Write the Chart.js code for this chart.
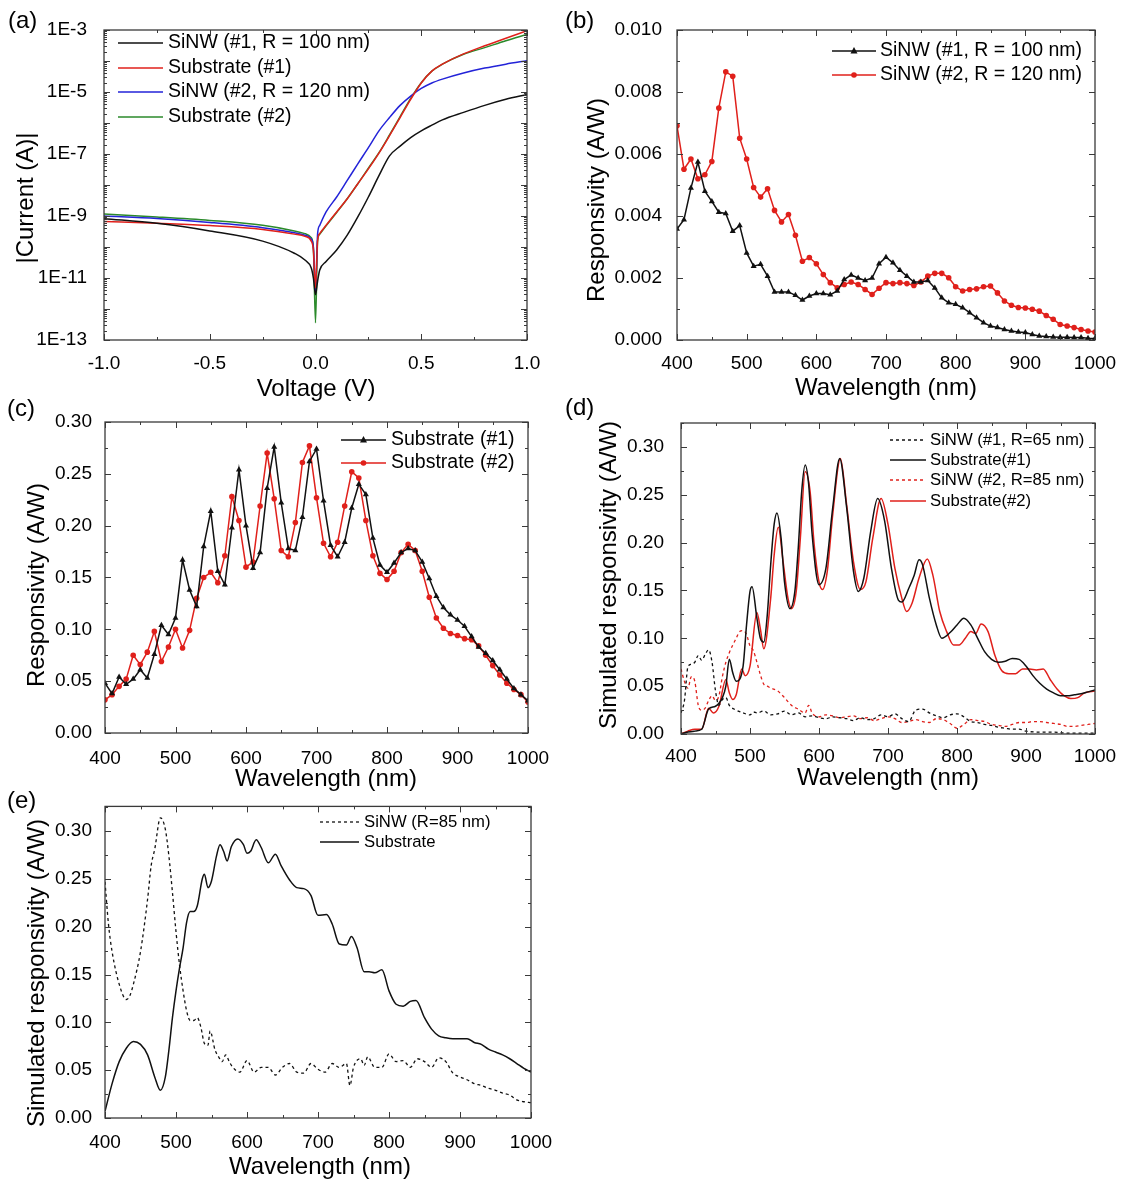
<!DOCTYPE html>
<html>
<head>
<meta charset="utf-8">
<script src="https://cdn.jsdelivr.net/npm/chart.js@4.4.0/dist/chart.umd.min.js"></script>
<style>
  body { margin: 0; background: #fff; }
  #fig { position: relative; width: 1127px; height: 1183px; background: #fff; font-family: 'Liberation Sans', Arial, sans-serif; }
  #fig canvas { position: absolute; }
  .lab { position: absolute; font-size: 24px; line-height: 1; color: #000; }
</style>
</head>
<body>
<div id="fig">
  <canvas id="ca" width="560" height="410" style="left:0;top:0"></canvas>
  <canvas id="cb" width="567" height="410" style="left:560px;top:0"></canvas>
  <canvas id="cc" width="560" height="400" style="left:0;top:400px"></canvas>
  <canvas id="cd" width="567" height="400" style="left:560px;top:400px"></canvas>
  <canvas id="ce" width="560" height="393" style="left:0;top:790px"></canvas>
  <div class="lab" style="left:8px;top:8px">(a)</div>
  <div class="lab" style="left:565px;top:8px">(b)</div>
  <div class="lab" style="left:7px;top:396px">(c)</div>
  <div class="lab" style="left:565px;top:395px">(d)</div>
  <div class="lab" style="left:7px;top:788px">(e)</div>
</div>
<script>
// (a) I-V curves, |current| in A
const aVolt = [-1.0, -0.75, -0.5, -0.25, -0.1, -0.05, -0.02, -0.01, 0, 0.01, 0.02, 0.05, 0.1, 0.15, 0.2, 0.25, 0.3, 0.35, 0.4, 0.45, 0.5, 0.55, 0.6, 0.7, 0.8, 0.9, 1.0];
const aSiNW1 = [8.2e-10, 5.8e-10, 3.3e-10, 1.55e-10, 6.3e-11, 3.8e-11, 2.1e-11, 1e-11, 2.9e-12, 8e-12, 1.8e-11, 3.4e-11, 8e-11, 2.4e-10, 9.3e-10, 4.1e-9, 2e-8, 8.7e-8, 1.8e-7, 3.4e-7, 5.6e-7, 8.5e-7, 1.26e-6, 2.2e-6, 3.7e-6, 5.8e-6, 8.3e-6];
const aSub1 = [6.7e-10, 5.8e-10, 4.9e-10, 3.7e-10, 2.6e-10, 2.2e-10, 1.55e-10, 8e-11, 4.8e-12, 1.65e-10, 2.7e-10, 5e-10, 1.35e-9, 3.6e-9, 1.1e-8, 3.3e-8, 1.07e-7, 3.9e-7, 1.5e-6, 5.8e-6, 1.95e-5, 4.7e-5, 7.9e-5, 1.7e-4, 3.1e-4, 5.4e-4, 9.5e-4];
const aSiNW2 = [1.0e-9, 8.3e-10, 6.2e-10, 4.2e-10, 2.9e-10, 2.4e-10, 1.8e-10, 1e-10, 3.7e-12, 2.7e-10, 5e-10, 1.35e-9, 4.1e-9, 1.4e-8, 4.8e-8, 1.6e-7, 5.6e-7, 1.5e-6, 3.7e-6, 7.4e-6, 1.3e-5, 1.95e-5, 2.6e-5, 4.1e-5, 5.9e-5, 7.9e-5, 1.02e-4];
const aSub2 = [1.15e-9, 9.3e-10, 7.2e-10, 5e-10, 3.3e-10, 2.7e-10, 2e-10, 9e-11, 3.6e-13, 1.55e-10, 2.6e-10, 4.8e-10, 1.3e-9, 3.6e-9, 1.1e-8, 3.5e-8, 1.1e-7, 4.1e-7, 1.6e-6, 6.2e-6, 2e-5, 4.7e-5, 7.9e-5, 1.65e-4, 2.7e-4, 4.5e-4, 7.2e-4];
const aYTicks = [1e-13, 1e-11, 1e-9, 1e-7, 1e-5, 1e-3];
const aYLabels = ['1E-13', '1E-11', '1E-9', '1E-7', '1E-5', '1E-3'];

// (b), (c) measured spectra every 10 nm
const wl10 = [400, 410, 420, 430, 440, 450, 460, 470, 480, 490, 500, 510, 520, 530, 540, 550, 560, 570, 580, 590, 600, 610, 620, 630, 640, 650, 660, 670, 680, 690, 700, 710, 720, 730, 740, 750, 760, 770, 780, 790, 800, 810, 820, 830, 840, 850, 860, 870, 880, 890, 900, 910, 920, 930, 940, 950, 960, 970, 980, 990, 1000];
const bSiNW1 = [0.00358, 0.00388, 0.0049, 0.00574, 0.0048, 0.00447, 0.00412, 0.00408, 0.00351, 0.00369, 0.00281, 0.00238, 0.00244, 0.00206, 0.00155, 0.00155, 0.00155, 0.00144, 0.00129, 0.00142, 0.0015, 0.0015, 0.00146, 0.00158, 0.00195, 0.0021, 0.002, 0.00192, 0.002, 0.00246, 0.00267, 0.00249, 0.00225, 0.00206, 0.00187, 0.00187, 0.00192, 0.00168, 0.00136, 0.0012, 0.00115, 0.00104, 0.00088, 0.00072, 0.00056, 0.00045, 0.0004, 0.00034, 0.00029, 0.00026, 0.00024, 0.00018, 0.00013, 0.00011, 0.0001, 0.00009, 0.00009, 0.00008, 0.00008, 0.00006, 0.00005];
const bSiNW2 = [0.00691, 0.00551, 0.00584, 0.0052, 0.00533, 0.00576, 0.00748, 0.00865, 0.00851, 0.00651, 0.00584, 0.00492, 0.00461, 0.00488, 0.00418, 0.00381, 0.00405, 0.00338, 0.00254, 0.00266, 0.00246, 0.00211, 0.00185, 0.00168, 0.00179, 0.00187, 0.00179, 0.00163, 0.00147, 0.00167, 0.00185, 0.00182, 0.00185, 0.00182, 0.00176, 0.00187, 0.00206, 0.00215, 0.00215, 0.00201, 0.00172, 0.00158, 0.00163, 0.00165, 0.00172, 0.00174, 0.00152, 0.00126, 0.00112, 0.00105, 0.00103, 0.00099, 0.00093, 0.00079, 0.00067, 0.0005, 0.00045, 0.0004, 0.00034, 0.00029, 0.00026];
const cSub1 = [0.048, 0.038, 0.054, 0.047, 0.052, 0.061, 0.053, 0.076, 0.104, 0.095, 0.111, 0.167, 0.138, 0.122, 0.18, 0.214, 0.156, 0.143, 0.198, 0.254, 0.2, 0.159, 0.174, 0.236, 0.276, 0.222, 0.178, 0.176, 0.208, 0.262, 0.274, 0.224, 0.181, 0.17, 0.184, 0.217, 0.24, 0.23, 0.188, 0.162, 0.155, 0.164, 0.174, 0.178, 0.176, 0.165, 0.149, 0.132, 0.121, 0.114, 0.109, 0.103, 0.093, 0.083, 0.077, 0.07, 0.061, 0.052, 0.043, 0.037, 0.031];
const cSub2 = [0.032, 0.037, 0.045, 0.052, 0.075, 0.066, 0.078, 0.098, 0.069, 0.083, 0.1, 0.082, 0.099, 0.13, 0.15, 0.155, 0.145, 0.171, 0.228, 0.205, 0.16, 0.165, 0.219, 0.27, 0.226, 0.176, 0.17, 0.203, 0.261, 0.277, 0.227, 0.183, 0.17, 0.184, 0.219, 0.252, 0.246, 0.205, 0.171, 0.154, 0.148, 0.156, 0.174, 0.182, 0.176, 0.156, 0.131, 0.111, 0.101, 0.096, 0.094, 0.091, 0.09, 0.084, 0.075, 0.065, 0.056, 0.048, 0.042, 0.037, 0.03];

// (d) simulated spectra
const dSiNW1Wl = [400, 405, 410, 415, 420, 425, 430, 435, 440, 445, 450, 455, 460, 465, 470, 480, 490, 500, 505, 510, 520, 530, 540, 550, 560, 570, 580, 590, 600, 610, 620, 630, 640, 650, 660, 670, 680, 690, 700, 710, 720, 730, 740, 750, 760, 770, 780, 790, 800, 810, 820, 830, 840, 850, 860, 870, 880, 890, 900, 920, 940, 960, 980, 1000];
const dSiNW1 = [0.022, 0.035, 0.07, 0.073, 0.075, 0.082, 0.077, 0.083, 0.088, 0.075, 0.045, 0.03, 0.036, 0.038, 0.03, 0.025, 0.022, 0.02, 0.023, 0.022, 0.024, 0.02, 0.021, 0.024, 0.02, 0.022, 0.018, 0.019, 0.017, 0.016, 0.018, 0.017, 0.016, 0.014, 0.017, 0.015, 0.016, 0.02, 0.018, 0.021, 0.016, 0.013, 0.025, 0.026, 0.022, 0.019, 0.017, 0.02, 0.021, 0.018, 0.013, 0.012, 0.01, 0.009, 0.007, 0.006, 0.005, 0.005, 0.003, 0.002, 0.002, 0.001, 0.001, 0.001];
const dSub1Wl = [400, 410, 420, 430, 440, 450, 460, 465, 470, 475, 480, 490, 495, 500, 503, 510, 515, 520, 525, 530, 535, 539, 545, 550, 558, 565, 570, 575, 580, 585, 590, 600, 610, 620, 630, 640, 650, 657, 665, 675, 685, 695, 705, 715, 720, 730, 738, 745, 750, 760, 770, 778, 790, 800, 810, 820, 830, 840, 850, 860, 870, 880, 890, 900, 910, 920, 930, 940, 950, 960, 970, 980, 990, 1000];
const dSub1 = [0, 0.002, 0.003, 0.005, 0.026, 0.029, 0.038, 0.05, 0.078, 0.064, 0.055, 0.071, 0.114, 0.149, 0.154, 0.121, 0.1, 0.096, 0.124, 0.177, 0.219, 0.231, 0.205, 0.159, 0.131, 0.149, 0.195, 0.254, 0.281, 0.261, 0.209, 0.156, 0.173, 0.237, 0.288, 0.237, 0.17, 0.149, 0.163, 0.212, 0.246, 0.223, 0.173, 0.14, 0.138, 0.152, 0.166, 0.182, 0.177, 0.142, 0.114, 0.1, 0.106, 0.114, 0.121, 0.114, 0.1, 0.086, 0.078, 0.075, 0.076, 0.079, 0.078, 0.071, 0.061, 0.053, 0.047, 0.043, 0.04, 0.04, 0.041, 0.042, 0.044, 0.046];
const dSiNW2Wl = [400, 405, 410, 415, 420, 425, 430, 435, 440, 445, 450, 455, 460, 465, 470, 475, 480, 485, 490, 495, 500, 505, 510, 515, 520, 525, 530, 540, 550, 560, 570, 580, 585, 590, 600, 610, 620, 630, 640, 650, 660, 670, 680, 690, 700, 710, 720, 730, 740, 750, 760, 770, 780, 790, 800, 810, 820, 830, 840, 850, 860, 870, 880, 890, 900, 910, 920, 930, 940, 950, 960, 970, 980, 990, 1000];
const dSiNW2 = [0.068, 0.055, 0.048, 0.06, 0.055, 0.03, 0.025, 0.027, 0.035, 0.04, 0.035, 0.04, 0.06, 0.075, 0.085, 0.093, 0.1, 0.107, 0.108, 0.104, 0.092, 0.087, 0.075, 0.062, 0.052, 0.05, 0.048, 0.045, 0.038, 0.03, 0.026, 0.022, 0.03, 0.022, 0.018, 0.02, 0.019, 0.017, 0.018, 0.019, 0.016, 0.017, 0.014, 0.016, 0.018, 0.016, 0.012, 0.013, 0.015, 0.013, 0.012, 0.016, 0.015, 0.011, 0.006, 0.01, 0.015, 0.014, 0.013, 0.01, 0.009, 0.008, 0.01, 0.012, 0.012, 0.013, 0.013, 0.012, 0.011, 0.01, 0.008, 0.008, 0.009, 0.01, 0.011];
const dSub2Wl = [400, 410, 420, 430, 440, 447, 455, 465, 470, 475, 480, 488, 493, 500, 510, 515, 520, 530, 535, 541, 548, 555, 560, 567, 573, 580, 587, 593, 600, 605, 612, 620, 631, 640, 650, 660, 668, 678, 690, 700, 710, 720, 727, 735, 745, 757, 765, 775, 785, 795, 803, 812, 820, 827, 835, 845, 855, 865, 875, 885, 895, 905, 915, 925, 935, 945, 955, 965, 975, 985, 1000];
const dSub2 = [0, 0.003, 0.005, 0.005, 0.027, 0.022, 0.029, 0.057, 0.043, 0.036, 0.041, 0.068, 0.061, 0.071, 0.127, 0.11, 0.089, 0.142, 0.187, 0.216, 0.18, 0.142, 0.131, 0.149, 0.205, 0.274, 0.254, 0.198, 0.159, 0.151, 0.17, 0.23, 0.288, 0.24, 0.18, 0.151, 0.159, 0.205, 0.246, 0.219, 0.173, 0.142, 0.128, 0.137, 0.163, 0.183, 0.166, 0.128, 0.107, 0.093, 0.093, 0.1, 0.107, 0.105, 0.115, 0.107, 0.082, 0.066, 0.063, 0.063, 0.068, 0.068, 0.067, 0.068, 0.057, 0.047, 0.04, 0.037, 0.038, 0.043, 0.045];

// (e) simulated spectra
const eSiNWWl = [400, 405, 410, 420, 430, 435, 440, 450, 460, 465, 470, 478, 485, 490, 495, 500, 505, 510, 515, 520, 525, 530, 535, 540, 545, 548, 555, 560, 565, 570, 575, 580, 590, 600, 610, 620, 630, 640, 650, 660, 670, 680, 690, 700, 710, 720, 730, 740, 745, 750, 760, 765, 770, 780, 790, 800, 810, 820, 830, 840, 850, 860, 870, 880, 890, 900, 910, 920, 930, 940, 950, 960, 970, 980, 990, 1000];
const eSiNW = [0.247, 0.202, 0.174, 0.14, 0.124, 0.128, 0.14, 0.174, 0.229, 0.264, 0.281, 0.314, 0.302, 0.274, 0.236, 0.195, 0.16, 0.133, 0.112, 0.102, 0.102, 0.105, 0.095, 0.078, 0.076, 0.091, 0.071, 0.064, 0.059, 0.066, 0.059, 0.053, 0.048, 0.06, 0.048, 0.053, 0.053, 0.045, 0.053, 0.057, 0.048, 0.047, 0.057, 0.051, 0.048, 0.057, 0.053, 0.057, 0.034, 0.053, 0.062, 0.055, 0.064, 0.053, 0.053, 0.067, 0.059, 0.06, 0.053, 0.062, 0.059, 0.053, 0.063, 0.059, 0.047, 0.043, 0.04, 0.036, 0.034, 0.031, 0.029, 0.026, 0.024, 0.019, 0.017, 0.016];
const eSubWl = [400, 410, 420, 430, 440, 450, 460, 470, 478, 485, 490, 495, 500, 505, 510, 515, 520, 525, 530, 537, 540, 545, 550, 557, 562, 567, 572, 578, 587, 595, 600, 605, 613, 620, 630, 640, 648, 660, 670, 680, 690, 700, 712, 720, 730, 740, 747, 755, 765, 772, 780, 790, 800, 810, 820, 830, 838, 850, 860, 870, 880, 890, 900, 910, 920, 930, 940, 950, 960, 970, 980, 990, 1000];
const eSub = [0.007, 0.036, 0.059, 0.073, 0.08, 0.077, 0.066, 0.043, 0.029, 0.043, 0.071, 0.105, 0.133, 0.157, 0.178, 0.205, 0.216, 0.216, 0.222, 0.25, 0.255, 0.241, 0.248, 0.274, 0.286, 0.279, 0.269, 0.284, 0.292, 0.286, 0.277, 0.279, 0.291, 0.283, 0.267, 0.276, 0.264, 0.249, 0.241, 0.24, 0.233, 0.212, 0.213, 0.203, 0.182, 0.181, 0.19, 0.178, 0.153, 0.153, 0.152, 0.155, 0.133, 0.119, 0.117, 0.122, 0.123, 0.105, 0.093, 0.086, 0.084, 0.083, 0.083, 0.083, 0.079, 0.077, 0.072, 0.069, 0.066, 0.062, 0.057, 0.052, 0.048];

const BLACK = '#111111';
const RED = '#e0201b';
const BLUE = '#2323d8';
const GREEN = '#2b8a2b';
const FONT = "'Liberation Sans', Arial, sans-serif";

Chart.defaults.font.family = FONT;
Chart.defaults.color = '#000';

const pts = (xs, ys) => xs.map((x, i) => ({ x: x, y: ys[i] }));

// tick positions for the inward ticks on all four sides
function linearMarks(min, max, major, minor) {
  const out = [];
  const n = Math.round((max - min) / minor);
  for (let i = 0; i <= n; i++) {
    const v = min + i * minor;
    const r = v / major;
    out.push({ v: v, major: Math.abs(r - Math.round(r)) < 1e-6 });
  }
  return out;
}
function logMarks(e0, e1) {
  const out = [];
  for (let e = e0; e < e1; e++) {
    out.push({ v: Math.pow(10, e), major: true });
    for (let k = 2; k < 10; k++) out.push({ v: k * Math.pow(10, e), major: false });
  }
  out.push({ v: Math.pow(10, e1), major: true });
  return out;
}

// frame, inward ticks and axis titles
function framePlugin(c) {
  return {
    id: 'frame',
    afterDatasetsDraw(chart) {
      const ctx = chart.ctx, a = chart.chartArea;
      const xs = chart.scales.x, ys = chart.scales.y;
      ctx.save();
      ctx.strokeStyle = '#3a3a3a';
      ctx.lineWidth = 1;
      ctx.beginPath();
      c.xMarks.forEach(m => {
        const px = Math.round(xs.getPixelForValue(m.v)) + 0.5;
        const len = m.major ? 6 : 3;
        ctx.moveTo(px, a.bottom); ctx.lineTo(px, a.bottom - len);
        ctx.moveTo(px, a.top); ctx.lineTo(px, a.top + len);
      });
      c.yMarks.forEach(m => {
        const py = Math.round(ys.getPixelForValue(m.v)) + 0.5;
        const len = m.major ? 6 : 3;
        ctx.moveTo(a.left, py); ctx.lineTo(a.left + len, py);
        ctx.moveTo(a.right, py); ctx.lineTo(a.right - len, py);
      });
      ctx.stroke();
      ctx.lineWidth = 1.3;
      ctx.strokeRect(a.left, a.top, a.right - a.left, a.bottom - a.top);

      ctx.fillStyle = '#000';
      ctx.font = '24px ' + FONT;
      ctx.textAlign = 'center';
      ctx.textBaseline = 'middle';
      ctx.fillText(c.xTitle.text, c.xTitle.x, c.xTitle.y);
      ctx.translate(c.yTitle.x, c.yTitle.y);
      ctx.rotate(-Math.PI / 2);
      ctx.fillText(c.yTitle.text, 0, 0);
      ctx.restore();
    }
  };
}

// legend drawn inside the plot box
function legendPlugin(c) {
  const L = c.legend;
  return {
    id: 'insideLegend',
    afterDraw(chart) {
      const ctx = chart.ctx;
      chart.data.datasets.forEach((ds, i) => {
        const y = L.rows[i];
        ctx.save();
        ctx.strokeStyle = ds.borderColor;
        ctx.lineWidth = ds.borderWidth;
        ctx.setLineDash(ds.borderDash || []);
        ctx.beginPath();
        ctx.moveTo(L.x0, y); ctx.lineTo(L.x1, y);
        ctx.stroke();
        ctx.setLineDash([]);
        if (ds.pointRadius) {
          const mx = (L.x0 + L.x1) / 2, r = ds.pointRadius;
          ctx.fillStyle = ds.borderColor;
          ctx.beginPath();
          if (ds.pointStyle === 'triangle') {
            ctx.moveTo(mx, y - r * 1.15);
            ctx.lineTo(mx + r, y + r * 0.7);
            ctx.lineTo(mx - r, y + r * 0.7);
            ctx.closePath();
          } else {
            ctx.arc(mx, y, r, 0, Math.PI * 2);
          }
          ctx.fill();
        }
        ctx.fillStyle = '#000';
        ctx.font = L.font + ' ' + FONT;
        ctx.textAlign = 'left';
        ctx.textBaseline = 'middle';
        ctx.fillText(ds.label, L.textX, y);
        ctx.restore();
      });
    }
  };
}

function makeChart(id, c) {
  const el = document.getElementById(id);
  const W = el.width, H = el.height;
  const yScale = Object.assign({
    position: 'left',
    grid: { display: false },
    border: { display: false },
    afterFit: s => { s.width = c.area.left; }
  }, c.y);
  yScale.ticks = Object.assign({ font: { size: 19 }, color: '#000', autoSkip: false }, c.y.ticks);
  const xScale = Object.assign({
    type: 'linear',
    position: 'bottom',
    grid: { display: false },
    border: { display: false },
    afterFit: s => { s.height = H - c.area.bottom; }
  }, c.x);
  xScale.ticks = Object.assign({ font: { size: 19 }, color: '#000', autoSkip: false, maxRotation: 0 }, c.x.ticks);
  return new Chart(el, {
    type: 'line',
    data: { datasets: c.datasets },
    options: {
      responsive: false,
      animation: false,
      events: [],
      layout: { padding: { left: 0, top: c.area.top, right: W - c.area.right, bottom: 0 } },
      plugins: { legend: { display: false }, tooltip: { enabled: false } },
      scales: { x: xScale, y: yScale }
    },
    plugins: [framePlugin(c), legendPlugin(c)]
  });
}

const smooth = { cubicInterpolationMode: 'monotone', pointRadius: 0 };
const plain = v => String(v);

// (a)
makeChart('ca', {
  area: { left: 104, right: 527, top: 30, bottom: 340 },
  x: { min: -1, max: 1, ticks: { stepSize: 0.5, padding: 4, callback: v => v.toFixed(1) } },
  y: {
    type: 'logarithmic', min: 1e-13, max: 1e-3,
    afterBuildTicks: s => { s.ticks = aYTicks.map(v => ({ value: v })); },
    ticks: { padding: 9, callback: (v, i) => aYLabels[i] }
  },
  xMarks: linearMarks(-1, 1, 0.5, 0.25),
  yMarks: logMarks(-13, -3),
  xTitle: { text: 'Voltage (V)', x: 316, y: 389 },
  yTitle: { text: '|Current (A)|', x: 26, y: 198 },
  legend: { x0: 118, x1: 163, textX: 168, rows: [43, 68, 92, 117], font: '19.5px' },
  datasets: [
    Object.assign({ label: 'SiNW (#1, R = 100 nm)', data: pts(aVolt, aSiNW1), borderColor: BLACK, borderWidth: 1.5 }, smooth),
    Object.assign({ label: 'Substrate (#1)', data: pts(aVolt, aSub1), borderColor: RED, borderWidth: 1.5 }, smooth),
    Object.assign({ label: 'SiNW (#2, R = 120 nm)', data: pts(aVolt, aSiNW2), borderColor: BLUE, borderWidth: 1.5 }, smooth),
    Object.assign({ label: 'Substrate (#2)', data: pts(aVolt, aSub2), borderColor: GREEN, borderWidth: 1.5 }, smooth)
  ]
});

// (b)
makeChart('cb', {
  area: { left: 117, right: 535, top: 30, bottom: 340 },
  x: { min: 400, max: 1000, ticks: { stepSize: 100, padding: 4, callback: plain } },
  y: { type: 'linear', min: 0, max: 0.01, ticks: { stepSize: 0.002, padding: 7, callback: v => v.toFixed(3) } },
  xMarks: linearMarks(400, 1000, 100, 50),
  yMarks: linearMarks(0, 0.01, 0.002, 0.001),
  xTitle: { text: 'Wavelength (nm)', x: 326, y: 388 },
  yTitle: { text: 'Responsivity (A/W)', x: 37, y: 200 },
  legend: { x0: 272, x1: 316, textX: 320, rows: [51, 75], font: '19.5px' },
  datasets: [
    { label: 'SiNW (#1, R = 100 nm)', data: pts(wl10, bSiNW1), borderColor: BLACK, backgroundColor: BLACK, borderWidth: 1.5, pointStyle: 'triangle', pointRadius: 3.5, pointBorderWidth: 0 },
    { label: 'SiNW (#2, R = 120 nm)', data: pts(wl10, bSiNW2), borderColor: RED, backgroundColor: RED, borderWidth: 1.5, pointStyle: 'circle', pointRadius: 2.8, pointBorderWidth: 0 }
  ]
});

// (c)
makeChart('cc', {
  area: { left: 105, right: 528, top: 22, bottom: 333 },
  x: { min: 400, max: 1000, ticks: { stepSize: 100, padding: 6, callback: plain } },
  y: { type: 'linear', min: 0, max: 0.3, ticks: { stepSize: 0.05, padding: 5, callback: v => v.toFixed(2) } },
  xMarks: linearMarks(400, 1000, 100, 50),
  yMarks: linearMarks(0, 0.3, 0.05, 0.025),
  xTitle: { text: 'Wavelength (nm)', x: 326, y: 379 },
  yTitle: { text: 'Responsivity (A/W)', x: 37, y: 185 },
  legend: { x0: 341, x1: 386, textX: 391, rows: [40, 63], font: '19.5px' },
  datasets: [
    { label: 'Substrate (#1)', data: pts(wl10, cSub1), borderColor: BLACK, backgroundColor: BLACK, borderWidth: 1.5, pointStyle: 'triangle', pointRadius: 3.5, pointBorderWidth: 0 },
    { label: 'Substrate (#2)', data: pts(wl10, cSub2), borderColor: RED, backgroundColor: RED, borderWidth: 1.5, pointStyle: 'circle', pointRadius: 2.8, pointBorderWidth: 0 }
  ]
});

// (d)
makeChart('cd', {
  area: { left: 121, right: 535, top: 23, bottom: 334 },
  x: { min: 400, max: 1000, ticks: { stepSize: 100, padding: 3, callback: plain } },
  y: { type: 'linear', min: 0, max: 0.325, ticks: { stepSize: 0.05, padding: 9, includeBounds: false, callback: v => v.toFixed(2) } },
  xMarks: linearMarks(400, 1000, 100, 50),
  yMarks: linearMarks(0, 0.325, 0.05, 0.025),
  xTitle: { text: 'Wavelength (nm)', x: 328, y: 378 },
  yTitle: { text: 'Simulated responsivity (A/W)', x: 49, y: 175 },
  legend: { x0: 330, x1: 366, textX: 370, rows: [40, 60, 80, 101], font: '16.7px' },
  datasets: [
    Object.assign({ label: 'SiNW (#1, R=65 nm)', data: pts(dSiNW1Wl, dSiNW1), borderColor: BLACK, borderWidth: 1.3, borderDash: [3, 3] }, smooth),
    Object.assign({ label: 'Substrate(#1)', data: pts(dSub1Wl, dSub1), borderColor: BLACK, borderWidth: 1.5 }, smooth),
    Object.assign({ label: 'SiNW (#2, R=85 nm)', data: pts(dSiNW2Wl, dSiNW2), borderColor: RED, borderWidth: 1.3, borderDash: [3, 3] }, smooth),
    Object.assign({ label: 'Substrate(#2)', data: pts(dSub2Wl, dSub2), borderColor: RED, borderWidth: 1.5 }, smooth)
  ]
});

// (e)
makeChart('ce', {
  area: { left: 105, right: 531, top: 13, bottom: 328 },
  x: { min: 400, max: 1000, ticks: { stepSize: 100, padding: 5, callback: plain } },
  y: { type: 'linear', min: 0, max: 0.326, ticks: { stepSize: 0.05, padding: 5, includeBounds: false, callback: v => v.toFixed(2) } },
  xMarks: linearMarks(400, 1000, 100, 50),
  yMarks: linearMarks(0, 0.325, 0.05, 0.025),
  xTitle: { text: 'Wavelength (nm)', x: 320, y: 377 },
  yTitle: { text: 'Simulated responsivity (A/W)', x: 37, y: 183 },
  legend: { x0: 320, x1: 359, textX: 364, rows: [32, 52], font: '16.7px' },
  datasets: [
    Object.assign({ label: 'SiNW (R=85 nm)', data: pts(eSiNWWl, eSiNW), borderColor: BLACK, borderWidth: 1.3, borderDash: [3, 3] }, smooth),
    Object.assign({ label: 'Substrate', data: pts(eSubWl, eSub), borderColor: BLACK, borderWidth: 1.5 }, smooth)
  ]
});
</script>
</body>
</html>
